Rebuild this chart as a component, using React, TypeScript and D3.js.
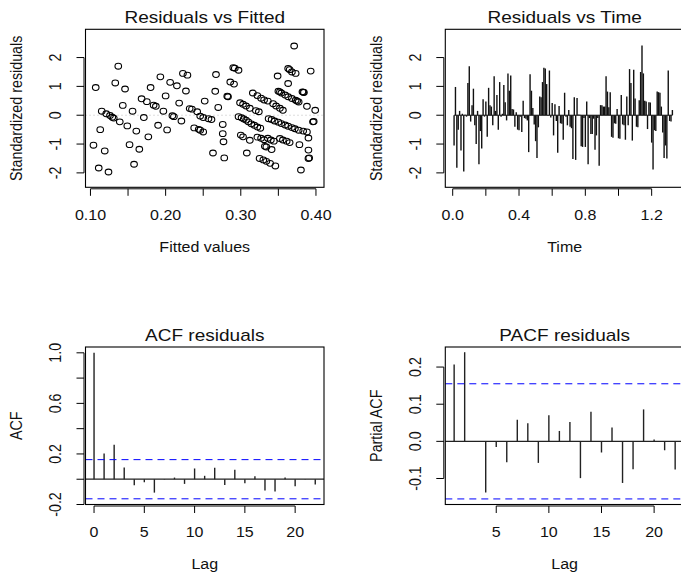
import React from 'react';
import * as d3 from 'd3';

// ---------- DATA ----------
const fittedValues = [
  0.107, 0.104, 0.111, 0.113, 0.115, 0.119, 0.121, 0.124, 0.126, 0.129, 0.131, 0.133, 0.137, 0.139, 0.143, 0.146,
  0.149, 0.152, 0.156, 0.158, 0.161, 0.165, 0.168, 0.171, 0.175, 0.177, 0.180, 0.184, 0.187, 0.190, 0.193, 0.197,
  0.200, 0.202, 0.206, 0.209, 0.211, 0.215, 0.218, 0.221, 0.223, 0.227, 0.229, 0.232, 0.235, 0.238, 0.242, 0.244,
  0.246, 0.246, 0.250, 0.250, 0.252, 0.257, 0.261, 0.263, 0.266, 0.267, 0.270, 0.278, 0.276, 0.276, 0.277, 0.282,
  0.283, 0.286, 0.290, 0.292, 0.291, 0.297, 0.297, 0.301, 0.304, 0.307, 0.310, 0.314, 0.318, 0.322, 0.326, 0.299,
  0.303, 0.307, 0.312, 0.300, 0.303, 0.308, 0.312, 0.316, 0.320, 0.324, 0.322, 0.327, 0.331, 0.336, 0.322, 0.327,
  0.331, 0.336, 0.340, 0.344, 0.332, 0.334, 0.341, 0.325, 0.330, 0.334, 0.339, 0.346, 0.337, 0.341, 0.345, 0.350,
  0.354, 0.359, 0.363, 0.368, 0.372, 0.377, 0.383, 0.388, 0.343, 0.347, 0.352, 0.356, 0.349, 0.350, 0.352, 0.354,
  0.359, 0.363, 0.368, 0.373, 0.375, 0.377, 0.352, 0.356, 0.361, 0.365, 0.363, 0.365, 0.368, 0.373, 0.363, 0.371,
  0.382, 0.383, 0.384, 0.388, 0.390, 0.390, 0.390, 0.391, 0.380, 0.393, 0.396, 0.397, 0.399, 0.378,
];
const fittedResiduals = [
  0.96, -1.04, -1.83, -0.5, 0.14, -1.24, 0.05, -1.97, -0.01, -0.07, -0.1, 1.12, 1.7, -0.23, 0.34, 0.91,
  -0.37, -1.02, 0.14, -1.7, -0.55, -1.18, 0.57, -0.08, 0.47, -0.75, 0.96, 0.35, 0.31, -0.35, 1.33, 0.14,
  0.67, -0.51, 1.14, -0.02, -0.05, 1.02, 0.42, -0.2, 1.45, 0.84, 1.39, 0.23, 0.21, -0.44, 0.12, -0.49,
  -0.03, -0.52, -0.08, -0.58, 0.49, -0.12, -0.15, -1.31, 0.83, 1.41, 0.27, -1.48, -0.32, -0.64, -0.92, 0.66,
  0.64, 1.15, 1.65, 1.63, 1.08, 1.56, -0.05, -0.09, -0.13, -0.17, -0.23, -0.3, -0.35, -0.41, -0.45, 0.43,
  0.38, 0.32, 0.24, -0.69, -0.75, -1.31, -0.87, 0.77, 0.16, 0.12, 0.68, 0.59, 0.53, 0.49, -0.76, -0.8,
  -0.85, -0.8, -0.86, -0.9, -1.08, -1.1, -1.19, -1.5, -1.55, -1.6, -1.67, -1.76, -0.12, -0.15, -0.2, -0.24,
  -0.29, -0.34, -0.38, -0.43, -0.47, -0.52, -0.55, -0.58, 0.4, 0.32, 0.24, 0.17, 1.36, 0.83, 0.81, 0.77,
  0.7, 0.64, 0.58, 0.52, 0.49, 0.46, -0.81, -0.86, -0.9, -0.95, 1.62, 1.58, 1.5, 1.45, 1.1, 2.4,
  0.81, 0.8, 0.79, 0.31, -0.79, -1.21, -1.5, -1.48, -1.9, 1.53, -0.23, -0.22, 0.17, -1.02,
];
const timeStep = 1 / 120;
const timeResiduals = [
  -1.05, 0.98, -1.82, -0.5, 0.15, -1.22, 0.05, -1.95, 0.02, -0.05,
  1.12, 1.7, -0.22, 0.35, 0.92, -0.35, -1.0, 0.15, -1.7, -0.55,
  -1.15, 0.55, -0.05, 0.48, -0.75, 0.95, 0.35, 0.3, -0.35, 1.35,
  0.15, 0.7, -0.5, 1.15, -0.05, 0.05, 1.05, 0.45, -0.18, 1.45,
  0.85, 1.38, 0.22, 0.2, -0.4, 0.1, -0.5, -0.52, -0.05, -0.58,
  0.5, -0.1, -0.12, -0.18, -1.28, 1.42, 0.85, 0.25, -0.32, -0.9,
  -1.48, -0.42, 0.65, 0.62, 1.15, 1.65, 1.62, 1.08, -0.02, 1.55,
  -0.08, 0.42, -0.7, 0.38, -0.2, -1.3, 0.32, -0.28, -0.3, -0.85,
  0.78, -0.05, -0.35, 0.18, -0.4, -0.45, -1.52, 0.62, -1.55, 0.6,
  0.02, 0.02, -1.08, -1.1, -0.1, -1.1, 0.48, -1.7, -0.1, -0.65,
  -0.65, -0.12, -1.2, -0.7, -0.1, -1.75, 0.35, 0.35, 0.3, 0.3,
  1.35, 0.82, 0.28, 0.8, -0.75, -0.78, -0.28, -0.3, 0.22, -0.8,
  -0.82, 0.7, -0.32, -0.35, -0.85, 0.65, -0.35, 1.6, 1.12, -0.88,
  1.58, 0.58, -0.4, -0.42, 0.52, 1.5, 2.42, 1.45, 0.5, 0.48,
  -0.48, 0.45, 0.44, -0.95, -1.88, -0.52, -0.55, 0.82, 0.8, 0.78,
  0.3, -0.6, -1.48, -1.05, -1.5, 1.55, -0.2, -0.22, 0.18,
];
const acfLags = [0, 1, 2, 3, 4, 5, 6, 7, 8, 9, 10, 11, 12, 13, 14, 15, 16, 17, 18, 19, 20, 21, 22];
const acfValues = [1.0, 0.204, 0.273, 0.093, -0.048, -0.024, -0.106, -0.003, 0.013, -0.037, 0.085, 0.027,
  0.09, -0.045, 0.074, -0.032, 0.024, -0.09, -0.098, 0.013, -0.056, 0.002, -0.042];
const pacfLags = [1, 2, 3, 4, 5, 6, 7, 8, 9, 10, 11, 12, 13, 14, 15, 16, 17, 18, 19, 20, 21, 22];
const pacfValues = [0.207, 0.24, 0.001, -0.138, -0.015, -0.056, 0.058, 0.049, -0.058, 0.07, 0.028, 0.052,
  -0.099, 0.08, -0.03, 0.037, -0.112, -0.075, 0.086, 0.005, -0.024, -0.076];
const confLimit = 0.155;

const fittedXTicks = [0.1, 0.15, 0.2, 0.25, 0.3, 0.35, 0.4];
const fittedXLabels = [0.1, 0.2, 0.3, 0.4];
const residYTicks = [-2, -1, 0, 1, 2];
const timeXTicks = [0, 0.2, 0.4, 0.6, 0.8, 1.0, 1.2];
const timeXLabels = [0, 0.4, 0.8, 1.2];
const acfXTicks = [0, 5, 10, 15, 20];
const acfYTicks = [-0.2, 0, 0.2, 0.4, 0.6, 0.8, 1.0];
const acfYLabels = [-0.2, 0.2, 0.6, 1.0];
const pacfXTicks = [5, 10, 15, 20];
const pacfYTicks = [-0.1, 0, 0.1, 0.2];

// ---------- STYLE ----------
const SX = 1.12;
const FONT = "'Liberation Sans', Arial, Helvetica, sans-serif";
const LAB = 14.3;
const TITLE = 17;

type Box = { l: number; r: number; t: number; b: number };
const B1: Box = { l: 85.5, r: 324, t: 29.3, b: 187.3 };
const B2: Box = { l: 445.3, r: 684, t: 29.3, b: 187.3 };
const B3: Box = { l: 85.5, r: 324, t: 347, b: 504.5 };
const B4: Box = { l: 445.3, r: 684, t: 347, b: 504.5 };

function Txt({ x, y, size, rot = false, anchor = 'middle', children }: any) {
  return (
    <text
      transform={`translate(${x},${y}) scale(${SX},1)${rot ? ' rotate(-90)' : ''}`}
      fontFamily={FONT}
      fontSize={size}
      textAnchor={anchor}
      fill="#111"
    >
      {children}
    </text>
  );
}

function Frame({ box, x, y, xTicks, xLabels, xFmt, yTicks, yLabels, yFmt, title, xTitle, yTitle }: any) {
  const axY = box.b + 1.5;
  const axX = box.l - 1.5;
  const cx = (box.l + box.r) / 2;
  const cy = (box.t + box.b) / 2;
  return (
    <g>
      <rect x={box.l} y={box.t} width={box.r - box.l} height={box.b - box.t} fill="none" stroke="#000" strokeWidth={1.1} />
      <line x1={x(xTicks[0])} x2={x(xTicks[xTicks.length - 1])} y1={axY} y2={axY} stroke="#000" />
      {xTicks.map((t: number) => (
        <line key={'xt' + t} x1={x(t)} x2={x(t)} y1={axY} y2={axY + 7} stroke="#000" />
      ))}
      {xLabels.map((t: number) => (
        <Txt key={'xl' + t} x={x(t)} y={box.b + 32.5} size={LAB}>{xFmt(t)}</Txt>
      ))}
      <line x1={axX} x2={axX} y1={y(yTicks[0])} y2={y(yTicks[yTicks.length - 1])} stroke="#000" />
      {yTicks.map((t: number) => (
        <line key={'yt' + t} x1={axX} x2={axX - 7.5} y1={y(t)} y2={y(t)} stroke="#000" />
      ))}
      {yLabels.map((t: number) => (
        <Txt key={'yl' + t} x={box.l - 24.5} y={y(t)} size={LAB} rot>{yFmt(t)}</Txt>
      ))}
      <Txt x={cx} y={box.t - 6} size={TITLE}>{title}</Txt>
      <Txt x={cx} y={box.b + 64.5} size={LAB}>{xTitle}</Txt>
      <Txt x={box.l - 63.5} y={cy} size={LAB} rot>{yTitle}</Txt>
    </g>
  );
}

export default function App() {
  const x1 = d3.scaleLinear().domain([0.0934, 0.4107]).range([B1.l, B1.r]);
  const y1 = d3.scaleLinear().domain([-2.5, 2.98]).range([B1.b, B1.t]);
  const x2 = d3.scaleLinear().domain([-0.0446, 1.395]).range([B2.l, B2.r]);
  const y2 = d3.scaleLinear().domain([-2.5, 2.98]).range([B2.b, B2.t]);
  const x3 = d3.scaleLinear().domain([-0.85, 22.87]).range([B3.l, B3.r]);
  const y3 = d3.scaleLinear().domain([-0.2, 1.046]).range([B3.b, B3.t]);
  const x4 = d3.scaleLinear().domain([0.16, 22.84]).range([B4.l, B4.r]);
  const y4 = d3.scaleLinear().domain([-0.17, 0.254]).range([B4.b, B4.t]);

  const intFmt = (d: number) => String(d);
  const f2 = d3.format('.2f');
  const f1 = d3.format('.1f');
  const rFmt = (d: number) => (d < 0 ? '-' : '') + f1(Math.abs(d));
  const iFmt = (d: number) => (d < 0 ? '-' : '') + String(Math.abs(d));

  const times = timeResiduals.map((_, i) => (i + 1) * timeStep);

  return (
    <svg width={681} height={579} style={{ position: 'absolute', left: 0, top: 0, background: '#fff' }}>
      <rect width={681} height={579} fill="#fff" />
      {/* Panel 1: Residuals vs Fitted */}
      <line x1={B1.l} x2={B1.r} y1={y1(0)} y2={y1(0)} stroke="#bbb" strokeDasharray="1,3" />
      {fittedValues.map((f, i) => (
        <ellipse key={i} cx={x1(f)} cy={y1(fittedResiduals[i])} rx={3.3} ry={2.9} fill="none" stroke="#000" strokeWidth={1.1} />
      ))}
      <Frame box={B1} x={x1} y={y1} xTicks={fittedXTicks} xLabels={fittedXLabels} xFmt={f2}
        yTicks={residYTicks} yLabels={residYTicks} yFmt={iFmt}
        title="Residuals vs Fitted" xTitle="Fitted values" yTitle="Standardized residuals" />

      {/* Panel 2: Residuals vs Time */}
      <line x1={x2(times[0])} x2={x2(times[times.length - 1])} y1={y2(0)} y2={y2(0)} stroke="#111" />
      {timeResiduals.map((v, i) => (
        <line key={i} x1={x2(times[i])} x2={x2(times[i])} y1={y2(0)} y2={y2(v)} stroke="#111" strokeWidth={1.4} />
      ))}
      <Frame box={B2} x={x2} y={y2} xTicks={timeXTicks} xLabels={timeXLabels} xFmt={f1}
        yTicks={residYTicks} yLabels={residYTicks} yFmt={iFmt}
        title="Residuals vs Time" xTitle="Time" yTitle="Standardized residuals" />

      {/* Panel 3: ACF */}
      <line x1={B3.l} x2={B3.r} y1={y3(0)} y2={y3(0)} stroke="#222" strokeWidth={1.2} />
      {acfLags.map((l, i) => (
        <line key={i} x1={x3(l)} x2={x3(l)} y1={y3(0)} y2={y3(acfValues[i])} stroke="#222" strokeWidth={1.4} />
      ))}
      <line x1={B3.l} x2={B3.r} y1={y3(confLimit)} y2={y3(confLimit)} stroke="#0000ff" strokeDasharray="7,5" />
      <line x1={B3.l} x2={B3.r} y1={y3(-confLimit)} y2={y3(-confLimit)} stroke="#0000ff" strokeDasharray="7,5" />
      <Frame box={B3} x={x3} y={y3} xTicks={acfXTicks} xLabels={acfXTicks} xFmt={intFmt}
        yTicks={acfYTicks} yLabels={acfYLabels} yFmt={rFmt}
        title="ACF residuals" xTitle="Lag" yTitle="ACF" />

      {/* Panel 4: PACF */}
      <line x1={B4.l} x2={B4.r} y1={y4(0)} y2={y4(0)} stroke="#222" strokeWidth={1.2} />
      {pacfLags.map((l, i) => (
        <line key={i} x1={x4(l)} x2={x4(l)} y1={y4(0)} y2={y4(pacfValues[i])} stroke="#222" strokeWidth={1.4} />
      ))}
      <line x1={B4.l} x2={B4.r} y1={y4(confLimit)} y2={y4(confLimit)} stroke="#0000ff" strokeDasharray="7,5" />
      <line x1={B4.l} x2={B4.r} y1={y4(-confLimit)} y2={y4(-confLimit)} stroke="#0000ff" strokeDasharray="7,5" />
      <Frame box={B4} x={x4} y={y4} xTicks={pacfXTicks} xLabels={pacfXTicks} xFmt={intFmt}
        yTicks={pacfYTicks} yLabels={pacfYTicks} yFmt={rFmt}
        title="PACF residuals" xTitle="Lag" yTitle="Partial ACF" />
    </svg>
  );
}
